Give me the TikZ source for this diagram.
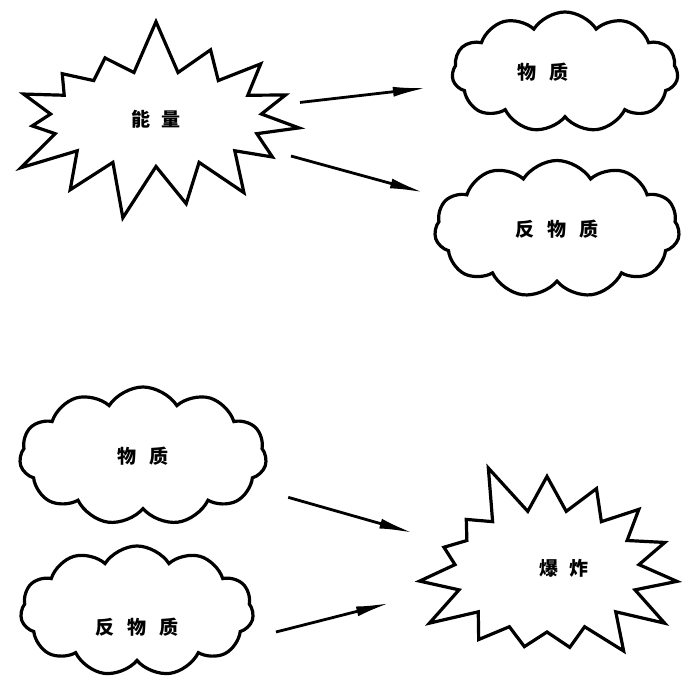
\documentclass[tikz,border=0pt]{standalone}
\usepackage{fontspec}
\newfontfamily\cjk{Noto Sans CJK SC}
\usetikzlibrary{shapes.symbols,arrows.meta,calc}

\begin{document}
\begin{tikzpicture}[x=1pt,y=-1pt,
  every node/.style={font=\cjk\bfseries\fontsize{19}{19}\selectfont, inner sep=0pt},
  puff/.style={draw, line width=3.2pt, cloud, cloud puffs=11, cloud puff arc=115, cloud ignores aspect},
  burst/.style={draw, line width=3.2pt, line join=miter, starburst, starburst points=15,
                starburst point height=55pt, random starburst=#1},
  arr/.style={line width=2.8pt, -{Latex[length=34pt,width=10pt]}}]
  \useasboundingbox (0,0) rectangle (686,676);

  % upper half: energy turns into matter and antimatter
  \node[burst=7, minimum width=322pt, minimum height=205pt] (energy) at (156,119) {能\hspace{12pt}量};
  \node[puff, minimum width=226pt, minimum height=120pt,
        label={[xshift=-22pt]center:物\hspace{13pt}质}] (matterA) at (565,72) {};
  \node[puff, minimum width=245pt, minimum height=137pt] (antiA) at (557,229) {反\hspace{13pt}物\hspace{13pt}质};

  \draw[arr, shorten <=145pt, shorten >=139pt] (energy.center) -- (matterA.center);
  \draw[arr, shorten <=140pt, shorten >=138pt] (energy.center) -- (antiA.center);

  % lower half: matter and antimatter meet in an explosion
  \node[puff, minimum width=247pt, minimum height=138pt] (matterB) at (143,456) {物\hspace{13pt}质};
  \node[puff, minimum width=233pt, minimum height=130pt,
        label={[yshift=-16pt]center:反\hspace{13pt}物\hspace{13pt}质}] (antiB) at (137,611) {};
  \node[burst=5, minimum width=295pt, minimum height=232pt,
        label={[xshift=17pt,yshift=3pt]center:爆\hspace{12pt}炸}] (boom) at (547,571) {};

  \draw[arr, shorten <=151pt, shorten >=139pt] (matterB.center) -- (boom.center);
  \draw[arr] ($(antiB.center)+(139,21)$) -- ($(boom.center)+(-157,32)$);
\end{tikzpicture}
\end{document}
